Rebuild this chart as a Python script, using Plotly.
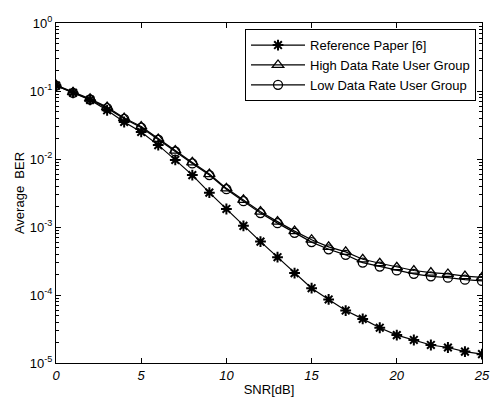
import plotly.graph_objects as go

snr = list(range(0, 26))

reference_paper = [0.120, 0.094, 0.074, 0.052, 0.035, 0.025, 0.016, 0.0097, 0.0058, 0.0032,
                   0.00184, 0.00104, 0.00061, 0.00036, 0.00021, 0.000126, 0.000086, 0.000059,
                   0.0000445, 0.000033, 0.0000257, 0.0000218, 0.0000184, 0.0000169, 0.0000147,
                   0.0000135]

high_rate = [0.122, 0.096, 0.077, 0.058, 0.040, 0.030, 0.0197, 0.0133, 0.0089, 0.0060,
             0.0037, 0.0025, 0.00168, 0.0012, 0.00087, 0.00065, 0.00051, 0.00043,
             0.000335, 0.000293, 0.000256, 0.000229, 0.000213, 0.000204, 0.00019,
             0.000182]

low_rate = [0.120, 0.094, 0.075, 0.056, 0.039, 0.029, 0.0192, 0.0129, 0.0086, 0.0058,
            0.0036, 0.0024, 0.00160, 0.00114, 0.00082, 0.00060, 0.00047, 0.00039,
            0.000300, 0.000262, 0.000230, 0.000205, 0.000188, 0.000180, 0.000168,
            0.000161]

x_ticks = [0, 5, 10, 15, 20, 25]
y_tickvals = [1, 1e-1, 1e-2, 1e-3, 1e-4, 1e-5]
y_ticktext = ["10<sup>0</sup>", "10<sup>-1</sup>", "10<sup>-2</sup>",
              "10<sup>-3</sup>", "10<sup>-4</sup>", "10<sup>-5</sup>"]
minor_vals = [k * 10.0 ** e for e in range(-5, 0) for k in range(2, 10)]

font = "Liberation Sans, Arial, Helvetica, sans-serif"

fig = go.Figure()
fig.add_trace(go.Scatter(x=snr, y=reference_paper, name="Reference Paper [6]",
                         mode="lines+markers",
                         line=dict(color="black", width=1.2),
                         marker=dict(symbol="asterisk-open", size=9,
                                     line=dict(color="black", width=2))))
fig.add_trace(go.Scatter(x=snr, y=high_rate, name="High Data Rate User Group",
                         mode="lines+markers",
                         line=dict(color="black", width=1.2),
                         marker=dict(symbol="triangle-up-open", size=10,
                                     line=dict(color="black", width=1.3))))
fig.add_trace(go.Scatter(x=snr, y=low_rate, name="Low Data Rate User Group",
                         mode="lines+markers",
                         line=dict(color="black", width=1.2),
                         marker=dict(symbol="circle-open", size=9,
                                     line=dict(color="black", width=1.3))))

fig.update_layout(
    width=493, height=397,
    margin=dict(l=56, r=11, t=23, b=34),
    paper_bgcolor="white", plot_bgcolor="white",
    font=dict(family=font, size=13, color="black"),
    showlegend=True,
    legend=dict(x=0.4437, y=0.982, xanchor="left", yanchor="top",
                bordercolor="black", borderwidth=1, bgcolor="white",
                font=dict(size=13), tracegroupgap=0,
                itemwidth=54),
    xaxis=dict(range=[0, 25], tickvals=x_ticks, ticks="inside", ticklen=5,
               showgrid=False, zeroline=False, showline=True, linecolor="black",
               linewidth=1.2, mirror="allticks", tickcolor="black", automargin=False,
               tickfont=dict(size=13, style="italic"),
               title=dict(text="SNR[dB]", standoff=7, font=dict(size=13))),
    yaxis=dict(type="log", range=[-5, 0], tickvals=y_tickvals, ticktext=y_ticktext,
               ticks="inside", ticklen=5, showgrid=False, zeroline=False,
               showline=True, linecolor="black", linewidth=1.2, mirror="allticks",
               tickcolor="black", automargin=False, ticklabelstandoff=0,
               tickfont=dict(size=13),
               minor=dict(tickvals=minor_vals, ticks="inside", ticklen=3,
                          tickcolor="black", showgrid=False),
               title=dict(text="Average  BER", standoff=2, font=dict(size=13))),
)

fig.write_html("out.html", config={"displayModeBar": False},
               post_script="document.body.style.margin='0';document.body.style.padding='0';")
